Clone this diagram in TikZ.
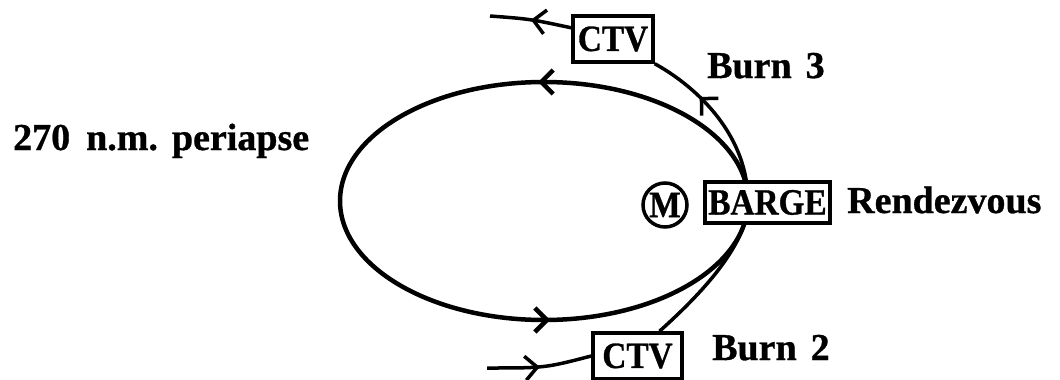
\documentclass[tikz,border=0pt]{standalone}
\usepackage{fontspec}
\setmainfont[BoldFeatures={FakeBold=0.8}]{Liberation Serif}
\newfontfamily\boxfont[BoldFeatures={FakeStretch=0.9,FakeBold=0.8}]{Liberation Serif}
\usetikzlibrary{arrows.meta,decorations.markings,backgrounds}
\begin{document}
\begin{tikzpicture}[x=1pt,y=-1pt,
  lbl/.style={font=\bfseries\fontsize{38}{40}\selectfont, anchor=base west, inner sep=0pt},
  boxnode/.style={draw, line width=3.5pt, fill=white, font=\boxfont\bfseries\fontsize{37}{40}\selectfont, inner sep=0pt},
  barb/.style={-{Straight Barb[length=12pt,width=24pt]}},
  orbit/.style={line width=4.5pt},
  transfer/.style={line width=3.5pt},
  midbarb/.style={postaction={decorate}, decoration={markings, mark=at position #1 with {\arrow{Straight Barb[length=12pt,width=24pt]}}}}
]
\useasboundingbox (0,0) rectangle (1060,380);

\node[boxnode, minimum width=80pt, minimum height=46pt] (ctv1) at (613,39) {CTV};
\node[boxnode, minimum width=89pt, minimum height=46pt] (ctv2) at (637.5,356) {CTV};
\node[boxnode, minimum width=125pt, minimum height=41pt] (barge) at (767.5,202.5) {BARGE};
\node[draw, circle, line width=3.5pt, minimum size=44pt, inner sep=0pt, font=\boxfont\bfseries\fontsize{37}{40}\selectfont] (moon) at (665,205) {M};

\node[lbl] (peri) at (13,150) {270\hspace{16pt}n.m.\hspace{14pt}periapse};
\node[lbl] (burn3) at (707,78) {Burn\hspace{14pt}3};
\node[lbl] (burn2) at (712,360) {Burn\hspace{14pt}2};
\node[lbl] (rdv) at (847,213) {Rendezvous};

\coordinate (rv) at (748,202);
\coordinate (out1) at (490,16);
\coordinate (in2) at (487,368);
\coordinate (ctr) at (544,201);

\begin{scope}[on background layer]
\draw[orbit] (ctr) ellipse [x radius=204pt, y radius=119pt];
\draw[orbit, barb] (552,82) -- (538,82);
\draw[orbit, barb] (536,320) -- (550,320);
\draw[transfer, midbarb=0.68] (rv) .. controls (748,130) and (690,83) .. (ctv1.south east);
\draw[transfer, midbarb=0.5] (ctv1.165) .. controls (530,19) .. (out1);
\draw[transfer, midbarb=0.5] (in2) .. controls (545,368) .. (ctv2.west);
\draw[transfer] ([xshift=22pt]ctv2.north) .. controls (700,295) and (748,245) .. (rv);
\end{scope}
\end{tikzpicture}
\end{document}
